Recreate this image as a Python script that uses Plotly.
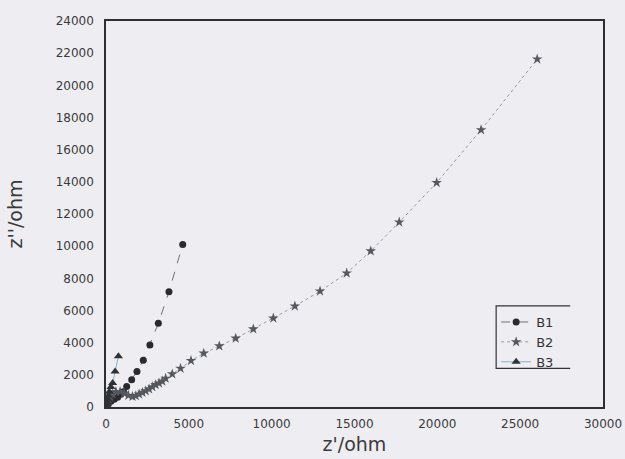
import plotly.graph_objects as go

# Nyquist data: real part z' and imaginary part z'' (ohm)
b1_re = [50, 150, 300, 500, 700, 900, 1050, 1250, 1550, 1870, 2250, 2650, 3160, 3800, 4630]
b1_im = [80, 200, 350, 480, 600, 800, 950, 1270, 1700, 2200, 2900, 3860, 5200, 7170, 10100]

b2_re = [30, 80, 150, 250, 400, 600, 850, 1100, 1350, 1600, 1800, 2000, 2200, 2400, 2600,
         2800, 3000, 3200, 3400, 3600, 4000, 4500, 5130, 5900, 6840, 7830, 8890, 10100,
         11400, 12920, 14530, 15980, 17700, 19960, 22640, 26030]
b2_im = [50, 200, 400, 600, 800, 950, 950, 850, 720, 650, 700, 800, 900, 1000, 1120,
         1250, 1380, 1480, 1600, 1780, 2050, 2400, 2880, 3340, 3790, 4270, 4850, 5520,
         6270, 7200, 8320, 9700, 11490, 13950, 17230, 21630]

b3_re = [20, 40, 70, 100, 140, 200, 300, 400, 550, 750]
b3_im = [50, 150, 300, 500, 700, 950, 1250, 1500, 2200, 3150]

x_ticks = [0, 5000, 10000, 15000, 20000, 25000, 30000]
y_ticks = list(range(0, 24001, 2000))

bg = "#eeeef2"
font_family = "DejaVu Sans, Liberation Sans, sans-serif"
axis_font = dict(family=font_family, size=12, color="#3a3a3a")
title_font = dict(family=font_family, size=19, color="#3a3a3a")

fig = go.Figure()
fig.add_trace(go.Scatter(
    x=b1_re, y=b1_im, name="B1", mode="lines+markers",
    line=dict(color="#707070", width=1, dash="dash"),
    marker=dict(symbol="circle", size=7, color="#2a2a2e"),
))
fig.add_trace(go.Scatter(
    x=b2_re, y=b2_im, name="B2", mode="lines+markers",
    line=dict(color="#9a9a9a", width=1, dash="dot"),
    marker=dict(symbol="star", size=8, color="#55585e"),
))
fig.add_trace(go.Scatter(
    x=b3_re, y=b3_im, name="B3", mode="lines+markers",
    line=dict(color="#8ab0cc", width=1),
    marker=dict(symbol="triangle-up", size=8, color="#2e3236"),
))

fig.update_layout(
    width=625, height=459,
    margin=dict(l=106, r=22, t=21, b=52),
    paper_bgcolor=bg, plot_bgcolor=bg,
    showlegend=True,
    legend=dict(
        x=0.785, y=0.259, xanchor="left", yanchor="top",
        bgcolor="rgba(0,0,0,0)", borderwidth=0,
        font=dict(family=font_family, size=13, color="#333333"),
        itemwidth=30, tracegroupgap=0,
    ),
    xaxis=dict(
        range=[0, 30000], tickvals=x_ticks, ticktext=[str(v) for v in x_ticks],
        tickfont=axis_font, automargin=False,
        showgrid=False, zeroline=False, showline=True, linecolor="#2f2f33", linewidth=1.5,
        mirror=True, ticks="", ticklabelstandoff=5,
        title=dict(text="z'/ohm", font=title_font, standoff=8),
    ),
    yaxis=dict(
        range=[0, 24000], tickvals=y_ticks, ticktext=[str(v) for v in y_ticks],
        tickfont=axis_font, automargin=False,
        showgrid=False, zeroline=False, showline=True, linecolor="#2f2f33", linewidth=1.5,
        mirror=True, ticks="", ticklabelstandoff=8,
        title=dict(text="z''/ohm", font=title_font, standoff=28),
    ),
)

# legend frame: open on the right side
fig.add_shape(type="path", xref="paper", yref="paper",
              path="M 0.9340,0.262 L 0.7850,0.262 L 0.7850,0.100 L 0.9340,0.100",
              line=dict(color="#333338", width=1.2))

fig.write_html("out.html")
